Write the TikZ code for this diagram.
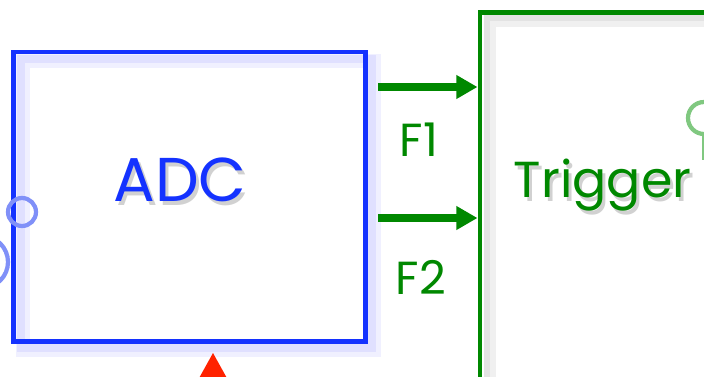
\documentclass[tikz,border=0pt]{standalone}
\usepackage{fontspec}
\setmainfont{Poppins}
\usetikzlibrary{arrows.meta,calc}

\definecolor{adcblue}{RGB}{20,50,255}
\definecolor{ringblue}{RGB}{128,144,248}
\definecolor{trgreen}{RGB}{0,136,0}
\definecolor{ringgreen}{RGB}{128,200,128}
\definecolor{pinred}{RGB}{255,34,0}

\tikzset{
  box/.style={draw, line width=3.5pt, minimum width=#1},
  flow/.style={-{Triangle[length=15pt,width=16pt]}, line width=5pt, trgreen},
  ring/.style={line width=3pt},
  shade text/.style={text=black!18},
}

\begin{document}
\begin{tikzpicture}[x=0.025cm,y=-0.025cm]
        \useasboundingbox (0,0) rectangle (704,376);
        \clip (0,0) rectangle (704,376);
        \fill [white] (0,0) rectangle (704,376);
        % soft glow of the boxes
        \draw [blue!6, line width=10pt] (23,61) rectangle (374,350);
        \draw [blue!12, line width=5pt] (21,59) rectangle (372,348);
        \draw [black!6, line width=9pt] (490,21) rectangle (820,460);
        \draw [black!11, line width=4pt] (487,18) rectangle (820,460);
        % ADC block
        \node [box=8.775cm, minimum height=7.225cm, adcblue] (adc) at (189.5,196.5) {};
        \node [shade text, font=\fontsize{44}{44}\selectfont] at (183,184) {ADC};
        \node [adcblue, font=\fontsize{44}{44}\selectfont] (adctxt) at (180,180) {ADC};
        % trigger block
        \node [box=8cm, minimum height=10.925cm, trgreen] (trig) at (640,231.5) {};
        \node [shade text, font=\fontsize{36}{36}\selectfont, anchor=west] at (512,189) {Trigger};
        \node [trgreen, font=\fontsize{36}{36}\selectfont, anchor=west] (trigtxt) at (509,185) {Trigger};
        % outputs
        \coordinate (f1) at (378,87);
        \coordinate (f2) at (378,218);
        \draw [flow] (f1) -- (f1 -| trig.west);
        \draw [flow] (f2) -- (f2 -| trig.west);
        \node [trgreen, font=\fontsize{33}{33}\selectfont] (f1lab) at (419,140) {F1};
        \node [trgreen, font=\fontsize{33}{33}\selectfont] (f2lab) at (421,277) {F2};
        % connectors
        \draw [ring, ringblue] (22,212) circle (14);
        \draw [ring, ringblue] (-18,262) circle (26);
        \draw [ring, ringgreen] (704,118) circle (16);
        \draw [ring, ringgreen] (704,134) -- (704,160);
        \fill [pinred] (213,353) -- (228,380) -- (198,380) -- cycle;
\end{tikzpicture}
\end{document}
